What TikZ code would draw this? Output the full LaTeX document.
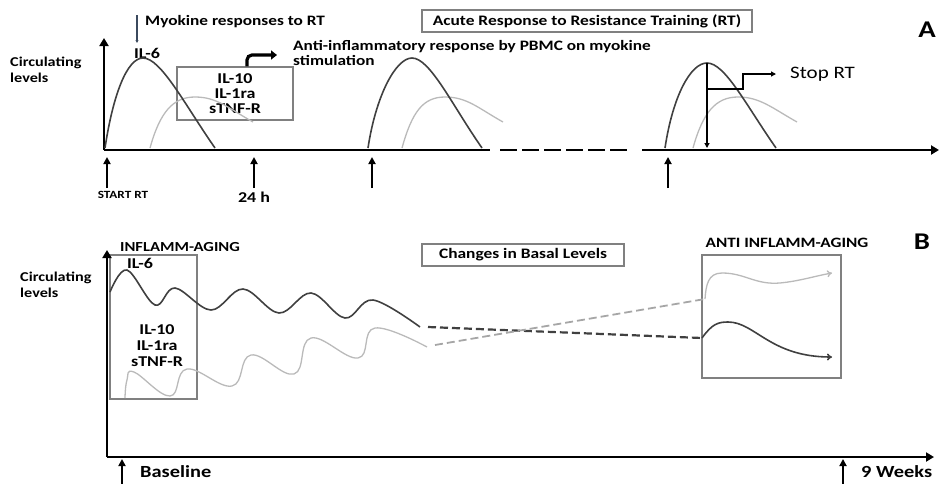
\documentclass[tikz,border=0pt]{standalone}
\usepackage{fontspec}
\setmainfont{Carlito}[FakeStretch=1.2]
\usetikzlibrary{arrows.meta}
\definecolor{myoblue}{HTML}{3B4A5E}

\begin{document}
\begin{tikzpicture}[x=1pt,y=-1pt,
		axis/.style={line width=2.8pt,-{Triangle[length=8pt,width=9pt]}},
		tick/.style={line width=2pt,-{Triangle[length=7pt,width=7pt]}},
		dark/.style={line width=1.6pt,draw=black!75},
		light/.style={line width=1.3pt,draw=black!27},
		frame/.style={draw=black!50,line width=1.1pt,inner sep=0pt},
		lbl/.style={font=\bfseries\fontsize{#1}{#1}\selectfont,inner sep=0pt},
		lbl/.default=11,
		tip/.style={-{To[length=5pt,width=7pt]}}]
		\useasboundingbox (0,0) rectangle (939,483);
		
		\node[lbl=24] (panelA) at (927,30) {A};
		\node[frame,minimum width=330pt,minimum height=22pt] (acute) at (587,21) {};
		\node[lbl=14.5] at (acute.center) {Acute Response to Resistance Training (RT)};
		\node[anchor=west,align=left,inner sep=0pt,font=\bfseries\fontsize{13.5}{16}\selectfont] (circA) at (10,70) {Circulating\\levels};
		\node[lbl=14.4,anchor=west] (myo) at (145,22) {Myokine responses to RT};
		\node[lbl=15] (il6A) at (147,53) {IL-6};
		\node[frame,minimum width=116pt,minimum height=53pt] (cytoA) at (235,93.5) {};
		\node[align=center,inner sep=0pt,font=\bfseries\fontsize{15}{15}\selectfont] at (cytoA.center) {IL-10\\IL-1ra\\sTNF-R};
		\node[anchor=north west,align=left,inner sep=0pt,font=\bfseries\fontsize{14.4}{15}\selectfont] (anti) at (293,40) {Anti-inflammatory response by PBMC on myokine\\stimulation};
		\node[lbl=11] (start) at (123,195) {START RT};
		\node[lbl=15] (h24) at (254,197) {24 h};
		\node[inner sep=0pt,anchor=west,font=\fontsize{17.5}{17.5}\selectfont] (stop) at (790,74) {Stop RT};
		
		\coordinate (Ao) at (104,150);
		\coordinate (Atop) at (104,38);
		\coordinate (Acut) at (490,150);
		\coordinate (Adash) at (500,150);
		\coordinate (Adashend) at (628,150);
		\coordinate (Aresume) at (642,150);
		\coordinate (Aend) at (939,150);
		\draw[axis] (Ao) -- (Atop);
		\draw[line width=2.8pt] (Ao) -- (Acut);
		\draw[line width=2.8pt,dash pattern=on 17pt off 5pt] (Adash) -- (Adashend);
		\draw[axis] (Aresume) -- (Aend);
		\foreach \x in {107,254,372,668}
			\draw[tick] (\x,188) -- (\x,157);
		\draw[line width=2.2pt,draw=myoblue,-{Triangle[length=3pt,width=3pt]}] (137,15) -- (137,43);
		
		\foreach \a/\p/\e in {150/195/253, 402/445/503, 693/738/797}
			\draw[light] (\a,148) .. controls ({\a+10},112) and ({\p-22},97) .. (\p,97) .. controls ({\p+22},97) and ({\e-25},108) .. (\e,122);
		\foreach \a/\p/\h/\e in {105/143/58/215, 368/412/58/482, 665/707/63/776}
			\draw[dark] (\a,148) .. controls ({\a+8},95) and ({\p-16},\h) .. (\p,\h) .. controls ({\p+18},\h) and ({\e-30},105) .. (\e,148);
		
		\draw[line width=3.2pt,-{Triangle[length=6pt,width=9pt]},rounded corners=5pt] ([xshift=12pt]cytoA.north) |- (277,55);
		\coordinate (peakC) at (707,63);
		\coordinate (baseC) at (707,148);
		\coordinate (stopC) at (707,89);
		\draw[line width=1.2pt,-{Triangle[length=5pt,width=5pt]}] (peakC) -- (baseC);
		\draw[line width=1.2pt,-{Triangle[length=5pt,width=5pt]}] (stopC) -- ++(36,0) |- ([xshift=-14pt]stop.west);
		
		\node[lbl=24] (panelB) at (922,242) {B};
		\node[frame,minimum width=202pt,minimum height=22pt] (basal) at (523,255) {};
		\node[lbl=14.5] at (basal.center) {Changes in Basal Levels};
		\node[anchor=west,align=left,inner sep=0pt,font=\bfseries\fontsize{13.5}{16}\selectfont] (circB) at (20,285) {Circulating\\levels};
		\node[lbl=13.8] (inflamm) at (180,247) {INFLAMM-AGING};
		\node[frame,minimum width=87pt,minimum height=144pt] (inflbox) at (153.5,327) {};
		\node[lbl=15] (il6B) at (140,263) {IL-6};
		\node[align=center,inner sep=0pt,font=\bfseries\fontsize{15}{16}\selectfont] (cytoB) at (157,346) {IL-10\\IL-1ra\\sTNF-R};
		\node[lbl=14.3] (antiinfl) at (787,243) {ANTI INFLAMM-AGING};
		\node[frame,minimum width=139pt,minimum height=123pt] (antibox) at (771.5,316.5) {};
		\node[lbl=17,anchor=west] (base) at (140,472) {Baseline};
		\node[lbl=17,anchor=west] (weeks) at (861,472) {9 Weeks};
		
		\coordinate (Bo) at (107,457);
		\draw[axis] (Bo) -- (107,250);
		\draw[axis] (Bo) -- (934,457);
		\foreach \x in {122,843}
			\draw[tick] (\x,490) -- (\x,459);
		
		\draw[dark] plot[smooth,tension=0.6] coordinates {(110,292) (127,270) (155,305) (175,288) (211,310) (243,289) (279,313) (311,293) (345,318) (373,300) (420,327)};
		\draw[dark,line width=2.2pt,dash pattern=on 8pt off 4pt] (428,327) -- (702,338);
		\draw[dark,tip] (702,338) .. controls (712,324) and (718,322) .. (728,322) .. controls (755,322) and (770,357) .. (832,357);
		
		\draw[light] plot[smooth,tension=0.7] coordinates {(125,398) (127,380) (134,372) (170,396) (187,369) (232,386) (251,355) (294,374) (311,338) (358,358) (375,328) (427,347)};
		\draw[light,line width=1.8pt,draw=black!35,dash pattern=on 8pt off 4pt] (435,345) -- (705,299);
		\draw[light,tip] (705,299) .. controls (706,285) and (708,273) .. (722,273) .. controls (745,273) and (755,285) .. (780,283) .. controls (800,281) and (815,276) .. (832,273);
\end{tikzpicture}
\end{document}
